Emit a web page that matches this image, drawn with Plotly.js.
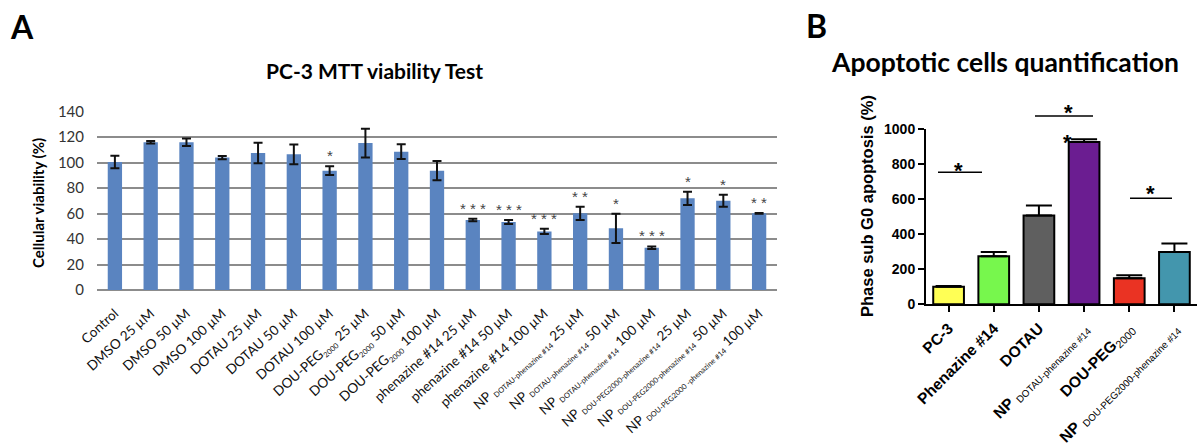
<!DOCTYPE html>
<html>
<head>
<meta charset="utf-8">
<script src="https://cdn.plot.ly/plotly-3.0.1.min.js"></script>
<style>html,body{margin:0;padding:0;background:#fff;}#chart{width:1200px;height:446px;}</style>
</head>
<body>
<div id="chart"></div>
<script>
// ---- Panel A data ----
const S = t => "<sub><span style='font-size:7.5px'>" + t + "</span></sub>";
const mttCategories = [
  "Control", "DMSO 25 µM", "DMSO 50 µM", "DMSO 100 µM",
  "DOTAU 25 µM", "DOTAU 50 µM", "DOTAU 100 µM",
  "DOU-PEG" + S("2000") + " 25 µM", "DOU-PEG" + S("2000") + " 50 µM", "DOU-PEG" + S("2000") + " 100 µM",
  "phenazine #14 25 µM", "phenazine #14 50 µM", "phenazine #14 100 µM",
  "NP " + S("DOTAU-phenazine #14") + " 25 µM", "NP " + S("DOTAU-phenazine #14") + " 50 µM", "NP " + S("DOTAU-phenazine #14") + " 100 µM",
  "NP " + S("DOU-PEG2000-phenazine #14") + " 25 µM", "NP " + S("DOU-PEG2000-phenazine #14") + " 50 µM", "NP " + S("DOU-PEG2000 -phenazine #14") + " 100 µM"
];
const mttValues = [100.5, 116, 116, 104, 107.6, 106.5, 93.7, 115.4, 108.6, 93.7, 55, 53.4, 46, 60.2, 48.4, 33.2, 72, 70, 60.2];
const mttErrors = [5, 1, 3, 1.3, 8, 7.8, 3.5, 11.3, 5.8, 7.6, 1, 1.5, 2, 5.2, 11.5, 1, 5.2, 4.7, 0.3];
const mttSignif = ["", "", "", "", "", "", "*", "", "", "", "***", "***", "***", "**", "*", "***", "*", "*", "**"];
const mttTicks = [0, 20, 40, 60, 80, 100, 120, 140];

// ---- Panel B data ----
const SB = t => "<sub><span style='font-size:9.8px'>" + t + "</span></sub>";
const apoCategories = [
  "<b>PC-3</b>", "<b>Phenazine #14</b>", "<b>DOTAU</b>",
  "<b>NP</b> " + SB("DOTAU-phenazine #14"), "<b>DOU-PEG</b><sub>2000</sub>",
  "<b>NP</b> " + SB("DOU-PEG2000-phenazine #14")
];
const apoValues = [100, 274, 507, 928, 149, 299];
const apoErrors = [5, 25, 57, 15, 17, 48];
const apoColors = ["#ffff55", "#77f74d", "#5f5f5f", "#6b1d91", "#ea3323", "#4396ad"];
const apoTicks = [0, 200, 400, 600, 800, 1000];

const W = 1200, H = 446;
const px = v => v / W, py = v => 1 - v / H;

const traces = [
  {
    type: "bar", x: mttCategories, y: mttValues, xaxis: "x", yaxis: "y",
    marker: {color: "#5a84c0"},
    error_y: {type: "data", array: mttErrors, visible: true, color: "#111", thickness: 2, width: 4.5},
    hoverinfo: "skip", showlegend: false
  },
  {
    type: "bar", x: apoCategories, y: apoValues, xaxis: "x2", yaxis: "y2",
    width: apoValues.map(() => 0.68),
    marker: {color: apoColors, line: {color: "#000", width: 2}},
    error_y: {type: "data", symmetric: false, array: apoErrors, arrayminus: apoErrors.map(() => 0),
              visible: true, color: "#000", thickness: 2, width: 13},
    hoverinfo: "skip", showlegend: false
  }
];

const annotations = [];
mttSignif.forEach((s, i) => {
  if (!s) return;
  annotations.push({
    xref: "x", yref: "y", x: mttCategories[i], y: mttValues[i] + mttErrors[i],
    text: s.split("").join(" "), showarrow: false, xanchor: "center", yanchor: "bottom", yshift: 0,
    font: {family: "Liberation Sans, Arial, sans-serif", size: 15, color: "#444"}
  });
});
function note(x, y, text, size, family, extra) {
  return Object.assign({xref: "paper", yref: "paper", x: px(x), y: py(y), text: text, showarrow: false,
    xanchor: "center", yanchor: "middle", font: {family: family, size: size, color: "#000"}}, extra || {});
}
const LATO = "Lato, sans-serif", ARIAL = "Liberation Sans, Arial, sans-serif";
annotations.push(
  note(22, 27, "<b>A</b>", 32, LATO),
  note(816, 26, "<b>B</b>", 32, LATO),
  note(374.5, 70, "<b>PC-3 MTT viability Test</b>", 21, LATO),
  note(1005, 62, "<b>Apoptotic cells quantification</b>", 26.5, LATO),
  note(38, 203, "<b>Cellular viability (%)</b>", 15, LATO, {textangle: -90}),
  note(867, 206, "<b>Phase sub G0 apoptosis (%)</b>", 16.5, ARIAL, {textangle: -90}),
  // significance stars panel B
  note(958, 170, "<b>*</b>", 22, ARIAL),
  note(1068, 113, "<b>*</b>", 22, ARIAL),
  note(1067, 142, "<b>*</b>", 22, ARIAL),
  note(1150, 194, "<b>*</b>", 22, ARIAL)
);

const shapes = [
  {type: "line", xref: "paper", yref: "paper", x0: px(938), x1: px(982), y0: py(172.3), y1: py(172.3), line: {color: "#000", width: 1.5}},
  {type: "line", xref: "paper", yref: "paper", x0: px(1035), x1: px(1093), y0: py(116), y1: py(116), line: {color: "#000", width: 1.5}},
  {type: "line", xref: "paper", yref: "paper", x0: px(1130), x1: px(1172), y0: py(198.3), y1: py(198.3), line: {color: "#000", width: 1.5}}
];

const layout = {
  width: W, height: H,
  margin: {l: 0, r: 0, t: 0, b: 0},
  paper_bgcolor: "#fff", plot_bgcolor: "rgba(0,0,0,0)",
  bargap: 0.6,
  xaxis: {
    domain: [px(97), px(777)], anchor: "y", type: "category",
    showgrid: false, showline: false, zeroline: false, ticks: "",
    tickangle: -42, ticklabelstandoff: 12,
    tickfont: {family: LATO, size: 13.5, color: "#111"}
  },
  yaxis: {
    domain: [py(290), py(111.7)], anchor: "x", range: [0, 140],
    tickvals: mttTicks, showgrid: true, gridcolor: "#8c8c8c", gridwidth: 2,
    zeroline: true, zerolinecolor: "#8c8c8c", zerolinewidth: 2,
    showline: false, ticks: "", ticklabelstandoff: 12,
    tickfont: {family: LATO, size: 15, color: "#333"}
  },
  xaxis2: {
    domain: [px(926), px(1197)], anchor: "y2", type: "category",
    showgrid: false, zeroline: false, showline: true, linecolor: "#000", linewidth: 2,
    ticks: "outside", ticklen: 6, tickwidth: 2, tickcolor: "#000",
    tickangle: -45, ticklabelstandoff: 1,
    tickfont: {family: ARIAL, size: 15.5, color: "#000"}
  },
  yaxis2: {
    domain: [py(304.3), py(129.3)], anchor: "x2", range: [0, 1000],
    tickvals: apoTicks, showgrid: false, zeroline: false,
    showline: true, linecolor: "#000", linewidth: 2,
    ticks: "outside", ticklen: 6, tickwidth: 2, tickcolor: "#000",
    tickfont: {family: ARIAL, size: 14, color: "#000", weight: "bold"}
  },
  annotations: annotations,
  shapes: shapes
};

Plotly.newPlot("chart", traces, layout, {staticPlot: true, displayModeBar: false});
</script>
</body>
</html>
